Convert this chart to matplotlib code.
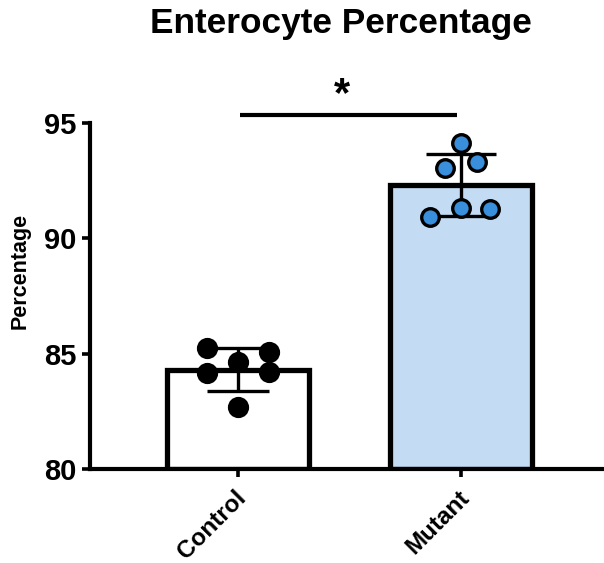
import matplotlib
matplotlib.use("Agg")
import matplotlib.pyplot as plt
import matplotlib.transforms as mtransforms
import numpy as np

plt.rcParams['font.family'] = ['Liberation Sans', 'DejaVu Sans']
plt.rcParams['font.weight'] = 'bold'

# ---- data ----
categories = ["Control", "Mutant"]
bar_means = [84.3, 92.3]
bar_sd = [0.93, 1.35]
control_points = [85.24, 85.07, 84.64, 84.16, 84.20, 82.69]
mutant_points = [94.13, 93.05, 93.31, 90.92, 91.31, 91.27]
control_jitter = [-0.14, 0.14, 0.0, -0.14, 0.14, 0.0]
mutant_jitter = [0.0, -0.07, 0.07, -0.14, 0.0, 0.13]
yticks = [80, 85, 90, 95]
title = "Enterocyte Percentage"
ylabel = "Percentage"
sig_text = "*"

W, H = 604, 563
fig = plt.figure(figsize=(W / 100, H / 100), dpi=100)
ax = fig.add_axes([90 / W, 1 - 469 / H, 1 - 90 / W, (469 - 123) / H])

x = np.arange(len(categories))
face = ["white", "#c3dcf4"]
ax.bar(x, [m - 80 for m in bar_means], bottom=80, width=0.64, color=face,
       edgecolor="black", linewidth=3.8, zorder=2)

caps = [22, 25]
for i in range(len(categories)):
    ax.errorbar(x[i], bar_means[i], yerr=bar_sd[i], fmt="none", ecolor="black",
                elinewidth=2.4, capsize=caps[i], capthick=2.4, zorder=3)

ax.scatter(x[0] + np.array(control_jitter), control_points, s=190, color="black",
           edgecolor="black", linewidth=1.5, zorder=4, clip_on=False)
ax.scatter(x[1] + np.array(mutant_jitter), mutant_points, s=160, color="#3a8fdd",
           edgecolor="black", linewidth=2.4, zorder=4, clip_on=False)

ax.set_ylim(80, 95)
ax.set_xlim(-0.664, 1.641)
ax.set_yticks(yticks)
ax.set_yticklabels([str(t) for t in yticks], fontsize=21, fontweight="bold")
ax.set_xticks(x)
ax.set_xticklabels(categories, fontsize=17.5, fontweight="bold", rotation=45,
                   ha="right", va="baseline", rotation_mode="anchor")
ax.tick_params(axis="y", length=6, width=2.6, pad=4)
ax.tick_params(axis="x", length=6, width=2.6, pad=15.5)
shift = mtransforms.ScaledTranslation(9 / 100, 0, fig.dpi_scale_trans)
for lab in ax.get_xticklabels():
    lab.set_transform(lab.get_transform() + shift)

for s in ["top", "right"]:
    ax.spines[s].set_visible(False)
for s in ["left", "bottom"]:
    ax.spines[s].set_linewidth(3)

# significance bar
ax.plot([0.01, 0.98], [95.34, 95.34], color="black", lw=3, clip_on=False,
        solid_capstyle="butt")
ax.text(0.466, 95.33, sig_text, ha="center", va="bottom", fontsize=30,
        fontweight="bold", clip_on=False)

fig.text(341 / W, 1 - 24 / H, title, ha="center", va="center", fontsize=25.4,
         fontweight="bold")
fig.text(20 / W, 1 - 271 / H, ylabel, ha="center", va="center", rotation=90,
         fontsize=15.5, fontweight="bold")

fig.savefig("out.png", dpi=100)
